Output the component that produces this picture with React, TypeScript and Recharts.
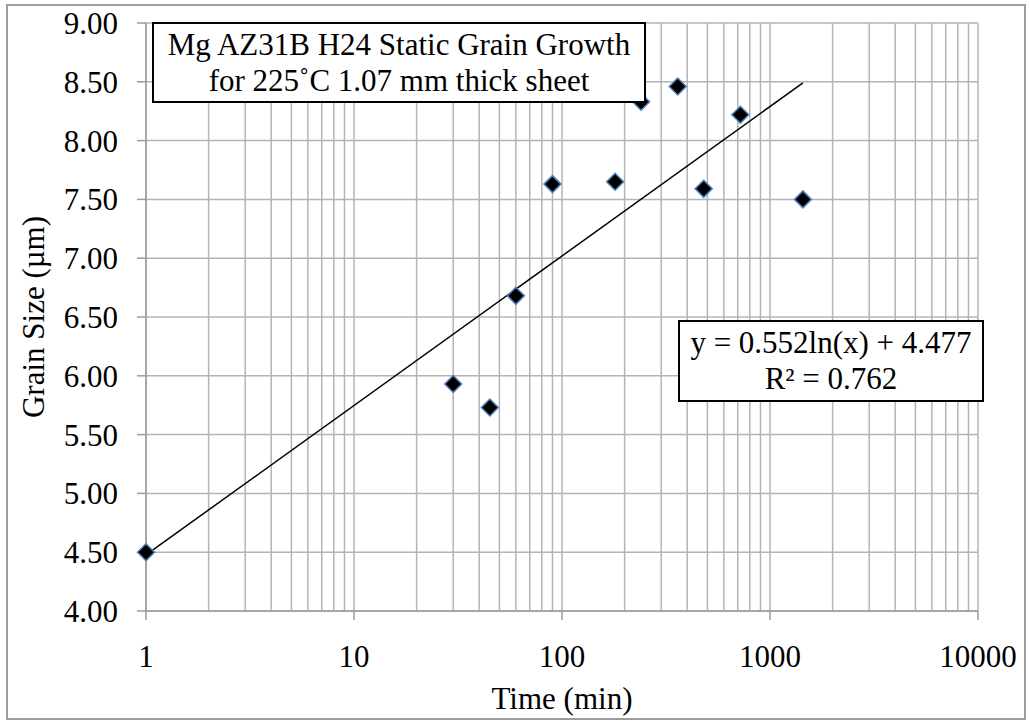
import React from "react"
import { ScatterChart, Scatter, XAxis, YAxis, CartesianGrid, ReferenceLine } from "recharts"

const FONT = "Liberation Serif, Times New Roman, serif"

// annealing time (min) and measured grain size (µm)
const timeMin = [1, 30, 45, 60, 90, 180, 240, 360, 480, 720, 1440]
const grainSize = [4.5, 5.93, 5.73, 6.68, 7.63, 7.65, 8.33, 8.46, 7.59, 8.22, 7.5]

// log trendline end points, as drawn on the chart
const trendTime = [1, 1440]
const trendSize = [4.477, 8.491]

const xTicks = [1, 10, 100, 1000, 10000]
const yTicks = [4, 4.5, 5, 5.5, 6, 6.5, 7, 7.5, 8, 8.5, 9]
const decades = [1, 10, 100, 1000]
const minorSteps = [2, 3, 4, 5, 6, 7, 8, 9]

const points = timeMin.map((t, i) => ({ x: t, y: grainSize[i] }))
const trend = trendTime.map((t, i) => ({ x: t, y: trendSize[i] }))
const minorX = decades.flatMap((d) => minorSteps.map((m) => m * d))

const GRID = "#b4b4b4"
const AXIS = "#9c9c9c"

function Diamond(props: any) {
  const { cx, cy } = props
  const r = 8.5
  return (
    <polygon
      points={`${cx},${cy - r} ${cx + r},${cy} ${cx},${cy + r} ${cx - r},${cy}`}
      fill="#000"
      stroke="#4f81bd"
      strokeWidth={1.5}
    />
  )
}

const boxStyle: React.CSSProperties = {
  position: "absolute",
  boxSizing: "border-box",
  border: "2px solid #000",
  background: "#fff",
  fontFamily: FONT,
  fontSize: 31,
  lineHeight: "36px",
  textAlign: "center",
  paddingTop: 3,
  color: "#000",
  whiteSpace: "nowrap",
}

export default function App() {
  return (
    <div style={{ position: "relative", width: 1029, height: 722, background: "#fff", fontFamily: FONT }}>
      <style>{"body{margin:0}"}</style>
      <div
        style={{
          position: "absolute",
          left: 6,
          top: 4,
          width: 1020,
          height: 716,
          boxSizing: "border-box",
          border: `2px solid ${AXIS}`,
        }}
      />
      <ScatterChart width={1029} height={722} margin={{ top: 23, right: 51, left: 0, bottom: 0 }}>
        <CartesianGrid stroke={GRID} strokeWidth={1.5} />
        {minorX.map((v) => (
          <ReferenceLine key={v} x={v} stroke={GRID} strokeWidth={1.5} />
        ))}
        <XAxis
          type="number"
          dataKey="x"
          scale="log"
          domain={[1, 10000]}
          ticks={xTicks}
          interval={0}
          height={111}
          axisLine={{ stroke: AXIS, strokeWidth: 1.5 }}
          tickLine={{ stroke: AXIS, strokeWidth: 1.5 }}
          tickSize={9}
          tickMargin={25}
          tick={{ fontSize: 31, fill: "#000", fontFamily: FONT }}
          label={{
            content: (p: any) => (
              <text
                x={p.viewBox.x + p.viewBox.width / 2}
                y={p.viewBox.y + 98}
                textAnchor="middle"
                fontSize={31}
                fontFamily={FONT}
                fill="#000"
              >
                Time (min)
              </text>
            ),
          }}
        />
        <YAxis
          type="number"
          dataKey="y"
          domain={[4, 9]}
          ticks={yTicks}
          interval={0}
          width={146}
          axisLine={{ stroke: AXIS, strokeWidth: 1.5 }}
          tickLine={{ stroke: AXIS, strokeWidth: 1.5 }}
          tickSize={9}
          tickMargin={19}
          tickFormatter={(v: number) => v.toFixed(2)}
          tick={{ fontSize: 31, fill: "#000", fontFamily: FONT }}
          label={{
            content: (p: any) => {
              const cx = 33
              const cy = p.viewBox.y + p.viewBox.height / 2
              return (
                <text
                  x={cx}
                  y={cy}
                  transform={`rotate(-90 ${cx} ${cy})`}
                  textAnchor="middle"
                  dominantBaseline="central"
                  fontSize={31}
                  fontFamily={FONT}
                  fill="#000"
                >
                  Grain Size (µm)
                </text>
              )
            },
          }}
        />
        <Scatter
          data={trend}
          line={{ stroke: "#000", strokeWidth: 1.5 }}
          shape={() => <g />}
          isAnimationActive={false}
        />
        <Scatter data={points} shape={Diamond} isAnimationActive={false} />
      </ScatterChart>
      <div style={{ ...boxStyle, left: 152, top: 22, width: 494, height: 81 }}>
        Mg AZ31B H24 Static Grain Growth
        <br />
        for 225˚C 1.07 mm thick sheet
      </div>
      <div style={{ ...boxStyle, left: 678, top: 320, width: 306, height: 82 }}>
        y = 0.552ln(x) + 4.477
        <br />
        R² = 0.762
      </div>
    </div>
  )
}
